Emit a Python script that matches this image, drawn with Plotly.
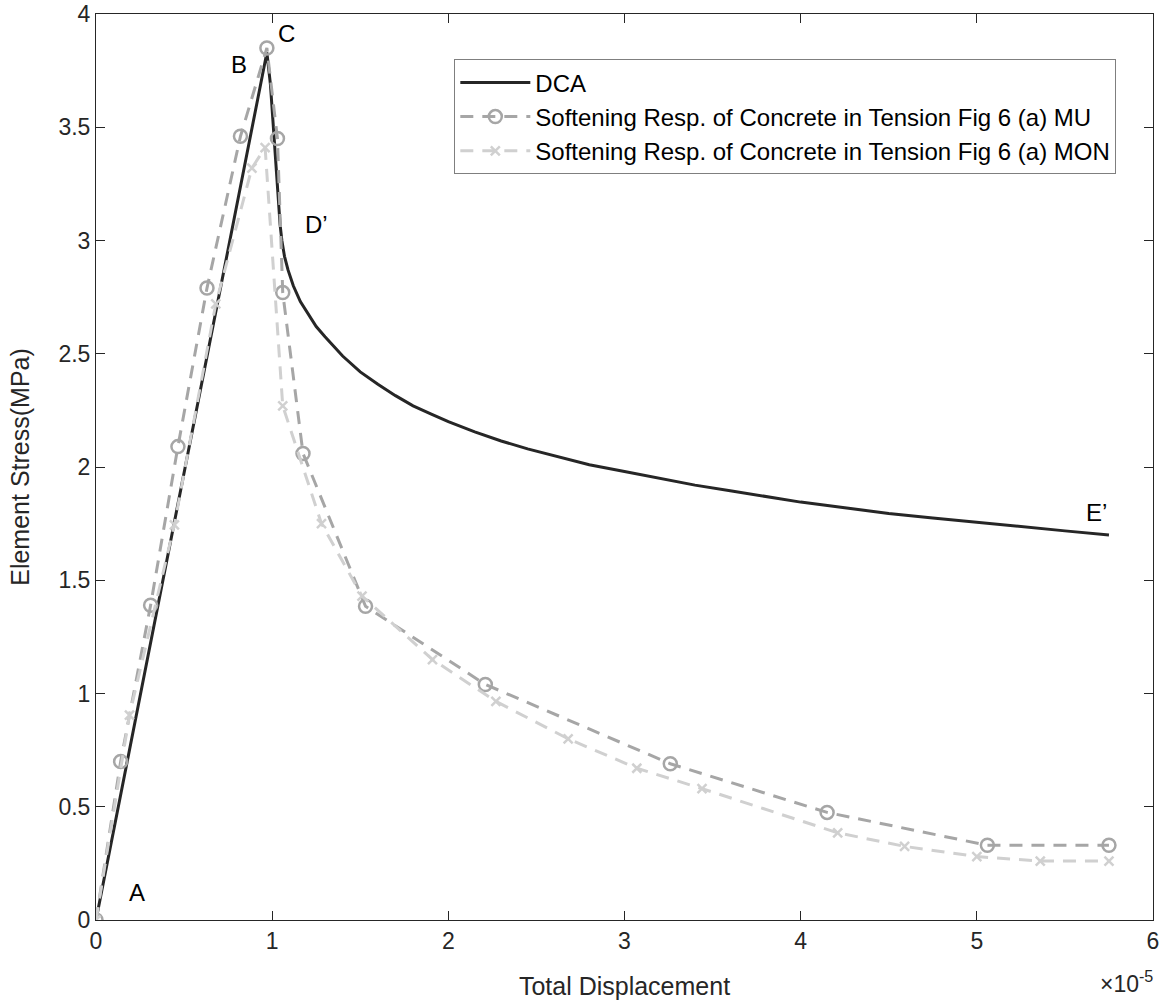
import plotly.graph_objects as go

# x values in units of 1e-5
dca_x = [0, 0.97, 0.99, 1.005, 1.015, 1.025, 1.035, 1.045, 1.055, 1.07, 1.09, 1.12, 1.16, 1.2, 1.25,
         1.3, 1.35, 1.4, 1.5, 1.6, 1.7, 1.8, 1.9, 2.0, 2.15, 2.3, 2.45, 2.6, 2.8, 3.0, 3.2, 3.4, 3.6,
         3.8, 4.0, 4.25, 4.5, 4.75, 5.0, 5.25, 5.5, 5.75]
dca_y = [0, 3.83, 3.69, 3.52, 3.40, 3.27, 3.16, 3.07, 3.00, 2.93, 2.87, 2.80, 2.73, 2.68, 2.62,
         2.575, 2.53, 2.49, 2.42, 2.365, 2.315, 2.27, 2.235, 2.20, 2.155, 2.115, 2.08, 2.05, 2.01,
         1.98, 1.95, 1.92, 1.895, 1.87, 1.845, 1.82, 1.795, 1.775, 1.755, 1.735, 1.718, 1.70]

mu_x = [0, 0.14, 0.31, 0.465, 0.63, 0.82, 0.97, 1.03, 1.06, 1.175, 1.53, 2.21, 3.26, 4.15, 5.06, 5.75]
mu_y = [0, 0.70, 1.39, 2.09, 2.79, 3.46, 3.85, 3.45, 2.77, 2.06, 1.385, 1.04, 0.69, 0.475, 0.33, 0.33]

mon_x = [0, 0.19, 0.445, 0.68, 0.885, 0.96, 1.06, 1.28, 1.51, 1.91, 2.27, 2.68, 3.07, 3.44, 4.21, 4.59,
         5.0, 5.36, 5.75]
mon_y = [0, 0.905, 1.745, 2.72, 3.32, 3.41, 2.27, 1.75, 1.43, 1.15, 0.965, 0.80, 0.67, 0.58, 0.385, 0.325,
         0.28, 0.26, 0.26]

x_ticks = [0, 1, 2, 3, 4, 5, 6]
y_ticks = [0, 0.5, 1, 1.5, 2, 2.5, 3, 3.5, 4]
y_tick_labels = ["0", "0.5", "1", "1.5", "2", "2.5", "3", "3.5", "4"]

point_labels = ["A", "B", "C", "D’", "E’"]
point_label_x = [0.233, 0.81, 1.084, 1.25, 5.68]
point_label_y = [0.12, 3.775, 3.916, 3.07, 1.80]

FONT = "Liberation Sans, Arial, sans-serif"
AX = "#262626"

fig = go.Figure()
fig.add_trace(go.Scatter(x=dca_x, y=dca_y, mode="lines", name="DCA", legendgroup="a",
                         line=dict(color="#262626", width=3)))
fig.add_trace(go.Scatter(x=mu_x, y=mu_y, mode="lines+markers", legendgroup="b",
                         name="Softening Resp. of Concrete in Tension Fig 6 (a) MU",
                         line=dict(color="#a6a6a6", width=3, dash="13px,9px"),
                         marker=dict(symbol="circle-open", size=13, color="#a6a6a6",
                                     line=dict(width=2.5, color="#a6a6a6"))))
fig.add_trace(go.Scatter(x=mon_x, y=mon_y, mode="lines+markers", legendgroup="c",
                         name="Softening Resp. of Concrete in Tension Fig 6 (a) MON",
                         line=dict(color="#d0d0d0", width=3, dash="13px,9px"),
                         marker=dict(symbol="x-thin-open", size=9, color="#d0d0d0",
                                     line=dict(width=2.5, color="#d0d0d0"))))

for t, x, y in zip(point_labels, point_label_x, point_label_y):
    fig.add_annotation(x=x, y=y, text=t, showarrow=False, xref="x", yref="y",
                       font=dict(family=FONT, size=24, color="#000000"))

fig.add_annotation(x=1.002, y=-0.068, xref="paper", yref="paper", xanchor="right", yanchor="middle",
                   text="×10<sup>-5</sup>", showarrow=False,
                   font=dict(family=FONT, size=23, color=AX))

fig.update_layout(
    width=1168, height=1000,
    margin=dict(l=96, r=15, t=14, b=80),
    paper_bgcolor="white", plot_bgcolor="white",
    font=dict(family=FONT, size=23, color=AX),
    legend=dict(x=0.339, y=0.950, xanchor="left", yanchor="top",
                bordercolor="#7f7f7f", borderwidth=1, bgcolor="white",
                font=dict(family=FONT, size=24, color="#000000"),
                itemwidth=70, tracegroupgap=0),
    showlegend=True,
)
fig.update_xaxes(range=[0, 6], tickvals=x_ticks, ticks="inside", ticklen=9, tickcolor=AX,
                 showline=True, linecolor=AX, linewidth=1, mirror="ticks", showgrid=False,
                 zeroline=False, automargin=False,
                 title=dict(text="Total Displacement", standoff=28,
                            font=dict(family=FONT, size=25, color=AX)),
                 tickfont=dict(family=FONT, size=23, color=AX))
fig.update_yaxes(range=[0, 4], tickvals=y_ticks, ticktext=y_tick_labels, ticks="inside", ticklen=9,
                 tickcolor=AX, showline=True, linecolor=AX, linewidth=1, mirror="ticks",
                 showgrid=False, zeroline=False, automargin=False,
                 title=dict(text="Element Stress(MPa)", standoff=21,
                            font=dict(family=FONT, size=25, color=AX)),
                 tickfont=dict(family=FONT, size=23, color=AX))

fig.write_html("out.html")
